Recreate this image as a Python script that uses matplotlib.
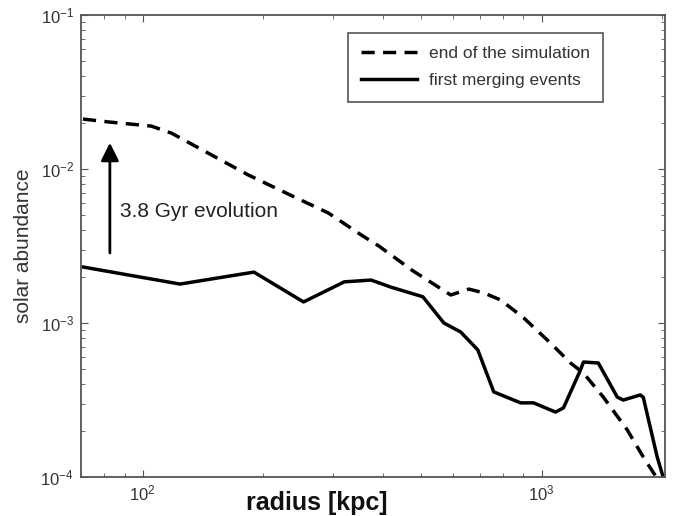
import numpy as np
import matplotlib
matplotlib.use("Agg")
import matplotlib.pyplot as plt
from matplotlib.ticker import LogLocator, NullFormatter

plt.rcParams["font.family"] = ["Liberation Sans", "DejaVu Sans"]
plt.rcParams["mathtext.fontset"] = "custom"
plt.rcParams["mathtext.rm"] = "Liberation Sans"

# metallicity profiles (radius in kpc, abundance in solar units)
r_end = [70.8, 82.2, 105, 118, 184, 240, 292, 353, 391, 476, 592, 657, 716,
         790, 902, 1053, 1182, 1274, 1429, 1641, 1799, 1939]
z_end = [0.0211, 0.0202, 0.0190, 0.0171, 0.00914, 0.00658, 0.00518, 0.00373,
         0.00316, 0.00218, 0.00152, 0.00166, 0.00157, 0.00141, 0.00108,
         0.000741, 0.000550, 0.000473, 0.000330, 0.000202, 0.000135, 0.0001]

r_first = [70.8, 124, 190, 253, 320, 374, 419, 504, 569, 627, 692, 759, 886,
           955, 1084, 1135, 1252, 1274, 1388, 1549, 1603, 1768, 1799, 1950, 2018]
z_first = [0.00231, 0.00179, 0.00214, 0.00137, 0.00185, 0.00190, 0.00171,
           0.00148, 0.00100, 0.000874, 0.000669, 0.000357, 0.000303, 0.000303,
           0.000264, 0.000281, 0.000495, 0.000558, 0.000550, 0.000330,
           0.000316, 0.000341, 0.000330, 0.000135, 0.0001]

labels = ["end of the simulation", "first merging events"]

# arrow showing the time evolution
arrow_r = 82.7
arrow_from, arrow_to = 0.00285, 0.0148
arrow_text = "3.8 Gyr evolution"

fig = plt.figure(figsize=(6.74, 5.16), dpi=100)
ax = fig.add_axes([81 / 674, 1 - 477 / 516, 584 / 674, 462 / 516])

ax.plot(r_end, z_end, color="k", lw=2.5, dashes=(3.8, 2.4), label=labels[0])
ax.plot(r_first, z_first, color="k", lw=2.5, label=labels[1])

ax.set_xscale("log")
ax.set_yscale("log")
ax.set_xlim(70, 2040)
ax.set_ylim(1e-4, 1e-1)

ax.annotate("", xy=(arrow_r, arrow_to), xytext=(arrow_r, arrow_from),
            arrowprops=dict(arrowstyle="-|>,head_length=0.6,head_width=0.3",
                            lw=2, color="k", mutation_scale=18,
                            shrinkA=0, shrinkB=0))
ax.text(87.6, 0.00526, arrow_text, va="center", ha="left", fontsize=15,
        color="#222")

# frame and ticks
for s in ax.spines.values():
    s.set_color("#555")
    s.set_linewidth(1.3)
ax.tick_params(which="both", direction="in", top=True, right=True,
               colors="#555", labelcolor="#333")
ax.tick_params(which="major", length=5, labelsize=12, pad=5)
ax.tick_params(which="minor", length=3)
ax.xaxis.set_major_locator(LogLocator(base=10))
ax.yaxis.set_major_locator(LogLocator(base=10))
ax.xaxis.set_minor_locator(LogLocator(base=10, subs=np.arange(2, 10)))
ax.yaxis.set_minor_locator(LogLocator(base=10, subs=np.arange(2, 10)))
ax.xaxis.set_minor_formatter(NullFormatter())
ax.yaxis.set_minor_formatter(NullFormatter())

ax.set_ylabel("solar abundance", fontsize=15, color="#333")
ax.yaxis.set_label_coords(-0.082, 0.5)
ax.set_xlabel("radius [kpc]", fontsize=18, fontweight="bold", color="#111")
ax.xaxis.set_label_coords(0.404, -0.03)

leg = ax.legend(loc="upper right", bbox_to_anchor=(0.894, 0.961),
                borderaxespad=0, fontsize=12.5, handlelength=3.2,
                handletextpad=0.7, borderpad=0.75, labelspacing=0.7,
                fancybox=False, framealpha=1)
leg.get_frame().set_edgecolor("#555")
leg.get_frame().set_linewidth(1.2)
for t in leg.get_texts():
    t.set_color("#333")

fig.savefig("out.png", dpi=100)
